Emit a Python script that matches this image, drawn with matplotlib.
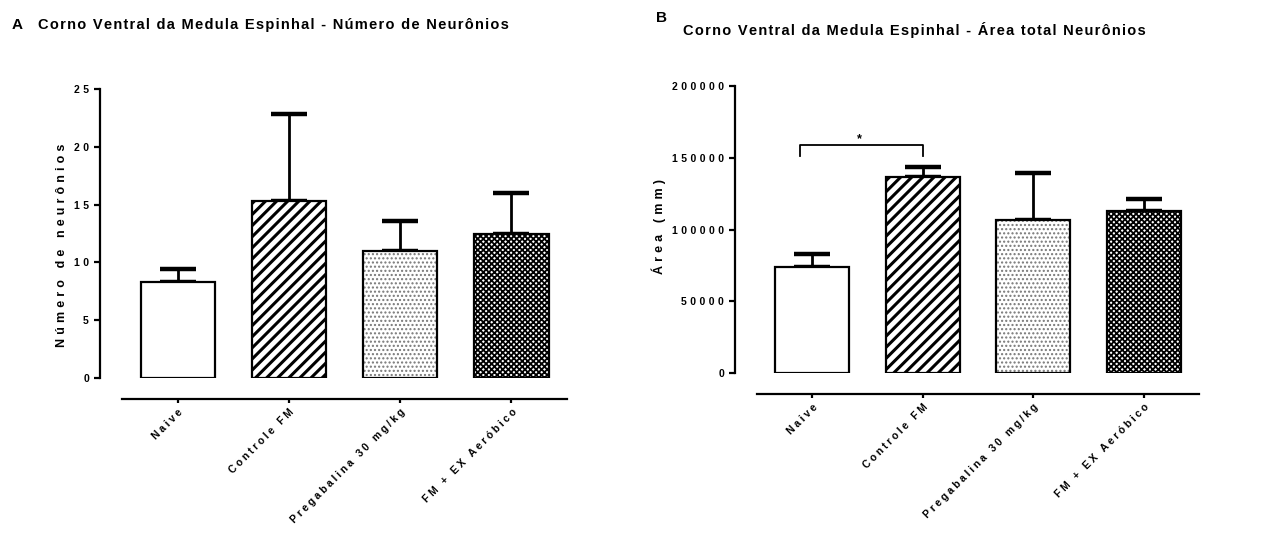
import matplotlib
matplotlib.use("Agg")
import matplotlib.pyplot as plt

plt.rcParams['font.family'] = ['Liberation Sans', 'DejaVu Sans']
plt.rcParams['font.weight'] = 'bold'
plt.rcParams['axes.labelweight'] = 'bold'

groups = ['Naive', 'Controle FM', 'Pregabalina 30 mg/kg', 'FM + EX Aeróbico']

neur_mean = [8.3, 15.3, 11.0, 12.5]
neur_err = [1.1, 7.5, 2.6, 3.5]

area_mean = [74000, 136600, 106600, 112900]
area_err = [9000, 7000, 32800, 8400]

hatches = ['', '///', '....', 'XXXXXX']
hatch_colors = ['black', 'black', '#777777', 'black']
hatch_lw = [1.0, 2.2, 1.0, 1.3]


def sp(s, gap='\u200a'):
    # GraphPad-like letter spacing
    return gap.join(s)


def draw_panel(ax, means, errs, ymax, ystep, ylabel, label_y):
    x = list(range(len(means)))
    for i in x:
        b = ax.bar(i, means[i], width=0.67, color='white', edgecolor='black',
                   linewidth=1.6, hatch=hatches[i], zorder=2)[0]
        b._hatch_color = matplotlib.colors.to_rgba(hatch_colors[i])
        try:
            b.set_hatch_linewidth(hatch_lw[i])
        except AttributeError:
            pass
    ax.errorbar(x, means, yerr=[[0] * len(errs), errs], fmt='none',
                ecolor='black', elinewidth=2.0, capsize=13, capthick=3.2, zorder=1)
    ax.set_ylim(0, ymax)
    ax.set_xlim(-0.7, 3.5)
    for s in ['top', 'right']:
        ax.spines[s].set_visible(False)
    ax.spines['left'].set_linewidth(1.6)
    ax.spines['bottom'].set_linewidth(1.6)
    ax.spines['bottom'].set_position(('outward', 15))
    ax.spines['bottom'].set_bounds(-0.5, 3.5)
    ax.tick_params(axis='y', length=4, width=1.6, pad=4, labelsize=7.5)
    ax.tick_params(axis='x', length=3, width=1.6, pad=3, labelsize=7.5)
    ticks = list(range(0, ymax + 1, ystep))
    ax.set_yticks(ticks, [sp(str(t), '\u2004') for t in ticks])
    ax.set_xticks(x, [sp(g, '\u2005') for g in groups])
    for lab in ax.get_xticklabels():
        lab.set_rotation(45)
        lab.set_ha('right')
        lab.set_va('top')
        lab.set_rotation_mode('anchor')
    ax.set_ylabel(sp(ylabel, '\u2004'), fontsize=9, labelpad=4)
    ax.yaxis.label.set_y(label_y)


fig = plt.figure(figsize=(12.61, 5.36), dpi=100)

axA = fig.add_axes([100 / 1261, 158 / 536, 467 / 1261, 289 / 536])
draw_panel(axA, neur_mean, neur_err, 25, 5, 'Número de neurônios', 0.46)

axB = fig.add_axes([735 / 1261, 163 / 536, 464 / 1261, 287 / 536])
draw_panel(axB, area_mean, area_err, 200000, 50000, 'Área (mm)', 0.51)

# significance bracket
axB.plot([-0.11, -0.11, 1.0, 1.0], [151000, 159000, 159000, 151000],
         color='black', linewidth=1.3, zorder=3)
axB.text(0.43, 158500, '*', ha='center', va='bottom', fontsize=9)

fig.text(12 / 1261, 1 - 25 / 536, 'A', fontsize=11, va='center', ha='left')
fig.text(38 / 1261, 1 - 25 / 536, sp('Corno Ventral da Medula Espinhal - Número de Neurônios'),
         fontsize=10.5, va='center', ha='left')
fig.text(656 / 1261, 1 - 18 / 536, 'B', fontsize=11, va='center', ha='left')
fig.text(683 / 1261, 1 - 30 / 536, sp('Corno Ventral da Medula Espinhal - Área total Neurônios'),
         fontsize=10.5, va='center', ha='left')

fig.savefig('out.png', dpi=100)
